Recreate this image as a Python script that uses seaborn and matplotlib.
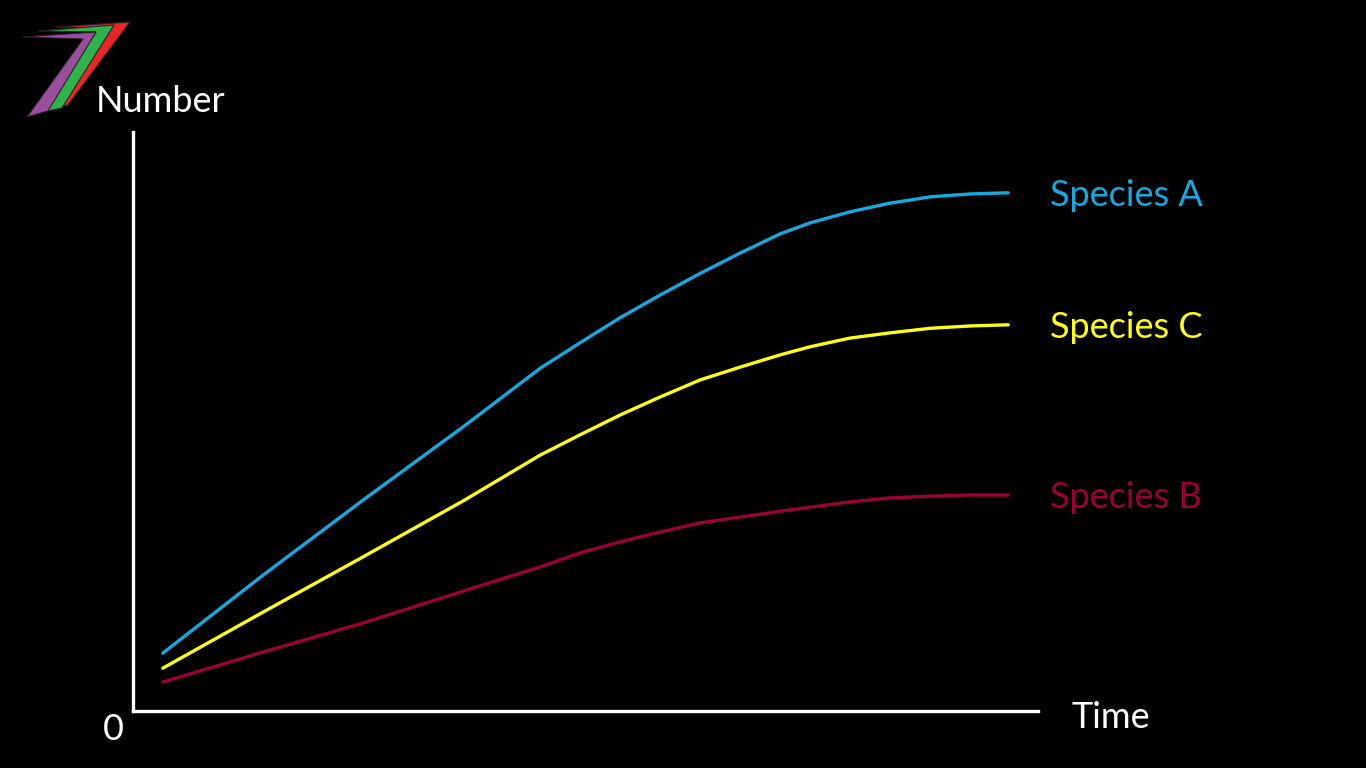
import numpy as np
import pandas as pd
import matplotlib
matplotlib.use("Agg")
import matplotlib.pyplot as plt
from matplotlib.patches import Polygon
import seaborn as sns

# values (time and number on a 0-100 scale)
time = [3.3, 14.4, 25.4, 36.5, 45.0, 49.4, 53.8, 58.2, 62.7, 67.1, 71.5,
        74.8, 79.2, 83.6, 88.1, 92.5, 96.7]
species_a = [10.0, 23.5, 36.4, 49.1, 59.2, 63.6, 67.9, 71.8, 75.6, 79.1, 82.4,
             84.3, 86.2, 87.7, 88.8, 89.3, 89.5]
species_c = [7.4, 17.1, 26.6, 36.3, 44.2, 47.7, 51.1, 54.2, 57.2, 59.4, 61.5,
             62.9, 64.4, 65.3, 66.1, 66.5, 66.7]
species_b = [5.0, 10.2, 15.2, 20.7, 24.9, 27.3, 29.2, 30.9, 32.5, 33.5, 34.5,
             35.2, 36.1, 36.8, 37.1, 37.3, 37.3]

names = ["Species A", "Species C", "Species B"]
colors = {"Species A": "#16A9E1", "Species C": "#FFFF14", "Species B": "#990033"}

df = pd.DataFrame({
    "Time": time * 3,
    "Number": species_a + species_c + species_b,
    "Species": [n for n in names for _ in time],
})

sns.set_style("dark")
plt.rcParams["font.family"] = ["Lato", "DejaVu Sans"]

fig = plt.figure(figsize=(13.66, 7.68), dpi=100, facecolor="black")
ax = fig.add_axes([133 / 1366, 57 / 768, 905 / 1366, 579 / 768])
ax.set_facecolor("black")

sns.lineplot(data=df, x="Time", y="Number", hue="Species", palette=colors,
             linewidth=2.4, legend=False, ax=ax)

ax.set_xlim(0, 100)
ax.set_ylim(0, 100)
ax.set_xticks([])
ax.set_yticks([])
ax.set_xlabel("")
ax.set_ylabel("")
ax.grid(False)
for side in ["top", "right"]:
    ax.spines[side].set_visible(False)
for side in ["left", "bottom"]:
    ax.spines[side].set_color("white")
    ax.spines[side].set_linewidth(2.4)

# series labels at the end of each curve
for name, vals in zip(names, [species_a, species_c, species_b]):
    ax.annotate(name, xy=(101.3, vals[-1]), xytext=(0, -2), textcoords="offset points",
                color=colors[name], fontsize=26, va="center", ha="left",
                annotation_clip=False)

fig.text(96 / 1366, 1 - 101 / 768, "Number", color="white", fontsize=26, va="center", ha="left")
fig.text(1071 / 1366, 1 - 717 / 768, "Time", color="white", fontsize=26, va="center", ha="left")
fig.text(113 / 1366, 1 - 730 / 768, "0", color="white", fontsize=26, va="center", ha="center")

# logo in the top-left corner (pixel coordinates)
logo = fig.add_axes([0, 0, 1, 1], zorder=5)
logo.set_xlim(0, 1366)
logo.set_ylim(768, 0)
logo.axis("off")
logo.patch.set_alpha(0)
shapes = [
    ("#E8262A", [(55, 27), (130, 22), (68, 105), (58, 108), (110, 28)]),
    ("#2DB34A", [(38, 31), (114, 25), (62, 108), (43, 112), (96, 32)]),
    ("#9B4D9E", [(22, 37), (96, 32), (48, 111), (27, 117), (83, 39)]),
]
for c, pts in shapes:
    logo.add_patch(Polygon(pts, closed=True, facecolor=c, edgecolor="#222222", linewidth=0.8))

fig.savefig("out.png", dpi=100, facecolor="black")
